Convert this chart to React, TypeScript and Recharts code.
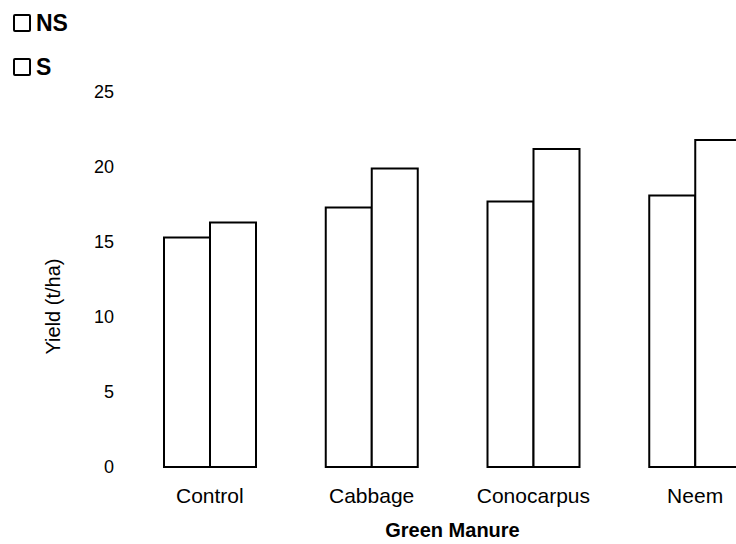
import React from 'react';
import { BarChart, Bar, XAxis, YAxis, Legend } from 'recharts';

const categories = ['Control', 'Cabbage', 'Conocarpus', 'Neem'];
const nsValues = [15.3, 17.3, 17.7, 18.1];
const sValues = [16.3, 19.9, 21.2, 21.8];
const yTicks = [0, 5, 10, 15, 20, 25];

const data = categories.map((name, i) => ({
  name,
  NS: nsValues[i],
  S: sValues[i],
}));

const font = '"Liberation Sans", Arial, sans-serif';

// legend drawn as hollow boxes, top-left corner
const LegendBox = (props: any) => {
  const items = props.payload || [];
  return (
    <div style={{ fontFamily: font, fontWeight: 'bold', fontSize: 23, lineHeight: '24px' }}>
      {items.map((it: any, i: number) => (
        <div
          key={i}
          style={{ display: 'flex', alignItems: 'center', height: 24, marginBottom: 20 }}
        >
          <span
            style={{
              display: 'inline-block',
              width: 14,
              height: 14,
              border: '2px solid #000',
              borderRadius: 2,
              marginRight: 5,
            }}
          />
          <span>{it.value}</span>
        </div>
      ))}
    </div>
  );
};

const YTitle = (props: any) => {
  const vb = props.viewBox;
  const cy = vb.y + vb.height / 2 + 27;
  return (
    <text
      x={60}
      y={cy}
      transform={`rotate(-90, 60, ${cy})`}
      textAnchor="middle"
      fontFamily={font}
      fontSize={20}
      fill="#000"
    >
      Yield (t/ha)
    </text>
  );
};

const XTitle = (props: any) => {
  const vb = props.viewBox;
  return (
    <text
      x={vb.x + vb.width / 2}
      y={vb.y + 70}
      textAnchor="middle"
      fontFamily={font}
      fontSize={20}
      fontWeight="bold"
      fill="#000"
    >
      Green Manure
    </text>
  );
};

export default function App() {
  return (
    <div
      style={{
        position: 'fixed',
        left: 0,
        top: 0,
        width: 736,
        height: 544,
        overflow: 'hidden',
        background: '#fff',
      }}
    >
      <BarChart
        width={776}
        height={544}
        data={data}
        margin={{ top: 92, right: 0, left: 69, bottom: 47 }}
        barGap={0}
        barSize={46}
      >
        <XAxis
          dataKey="name"
          height={30}
          axisLine={false}
          tickLine={false}
          tickSize={0}
          tickMargin={21}
          tick={{ fill: '#000', fontSize: 21, fontFamily: font }}
          label={{ content: <XTitle /> }}
        />
        <YAxis
          width={60}
          domain={[0, 25]}
          ticks={yTicks}
          axisLine={false}
          tickLine={false}
          tickSize={0}
          tickMargin={15}
          tick={{ fill: '#000', fontSize: 18, fontFamily: font }}
          label={{ content: <YTitle /> }}
        />
        <Legend
          verticalAlign="middle"
          align="center"
          layout="vertical"
          content={<LegendBox />}
          wrapperStyle={{ position: 'absolute', left: 13, top: 11, width: 80, height: 80 }}
        />
        <Bar dataKey="NS" name="NS" fill="#fff" stroke="#000" strokeWidth={2} isAnimationActive={false} />
        <Bar dataKey="S" name="S" fill="#fff" stroke="#000" strokeWidth={2} isAnimationActive={false} />
      </BarChart>
    </div>
  );
}
